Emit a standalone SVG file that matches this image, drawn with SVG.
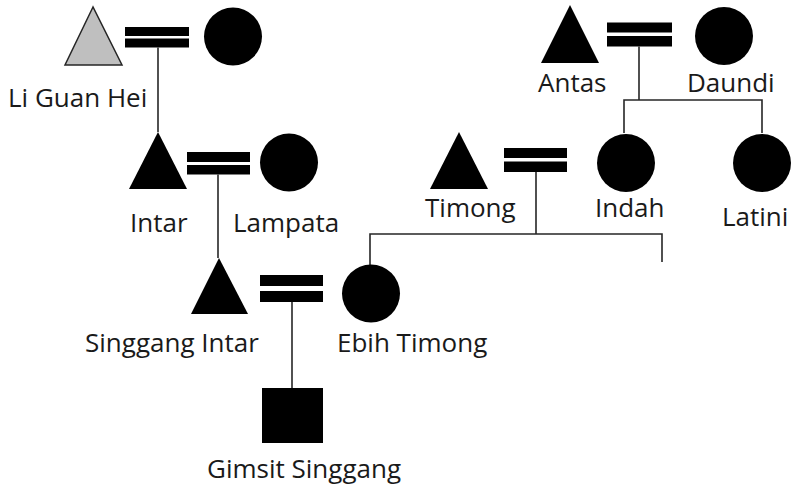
<svg xmlns="http://www.w3.org/2000/svg" width="791" height="490" viewBox="0 0 791 490">
  <style>
    .shape { fill: #000; }
    .deceased { fill: #bfbfbf; stroke: #262626; stroke-width: 1.5; stroke-linejoin: miter; }
    .bar { fill: #000; }
    .link { fill: none; stroke: #262626; stroke-width: 1.6; }
    .label { font-family: "Open Sans", "Liberation Sans", sans-serif; font-size: 26px; fill: #1a1a1a; }
  </style>
  <rect width="791" height="490" fill="#fff"/>

  <!-- marriage bars and descent lines -->
  <g id="connectors">
    <g id="marriage-liguanhei">
      <rect class="bar" x="125" y="27" width="64" height="9"/>
      <rect class="bar" x="125" y="38.5" width="64" height="9"/>
    </g>
    <g id="marriage-intar">
      <rect class="bar" x="187" y="152" width="63" height="10"/>
      <rect class="bar" x="187" y="165" width="63" height="9.5"/>
    </g>
    <g id="marriage-antas">
      <rect class="bar" x="607" y="22.5" width="65" height="10"/>
      <rect class="bar" x="607" y="36" width="65" height="10.5"/>
    </g>
    <g id="marriage-timong">
      <rect class="bar" x="504" y="148" width="63" height="10"/>
      <rect class="bar" x="504" y="161.5" width="63" height="10.5"/>
    </g>
    <g id="marriage-singgang">
      <rect class="bar" x="260" y="275" width="63" height="11"/>
      <rect class="bar" x="260" y="291" width="63" height="11"/>
    </g>
    <path class="link" d="M158 47.5 V132"/>
    <path class="link" d="M218 174.5 V258"/>
    <path class="link" d="M639 46.5 V100 M624 133 V100 H762 V133"/>
    <path class="link" d="M536 172 V234 M370 265 V234 H662 V262"/>
    <path class="link" d="M292 302 V388"/>
  </g>

  <g id="li-guan-hei">
    <polygon class="deceased" points="93,7 65,65 122,65"/>
    <text class="label" x="8" y="107">Li Guan Hei</text>
  </g>
  <g id="li-guan-hei-wife">
    <circle class="shape" cx="233" cy="36.5" r="29"/>
  </g>
  <g id="intar">
    <polygon class="shape" points="158,132 129,189 187,189"/>
    <text class="label" x="130" y="232">Intar</text>
  </g>
  <g id="lampata">
    <circle class="shape" cx="289" cy="162.5" r="29"/>
    <text class="label" x="233" y="232">Lampata</text>
  </g>
  <g id="antas">
    <polygon class="shape" points="570,5 541,63 599,63"/>
    <text class="label" x="538" y="92">Antas</text>
  </g>
  <g id="daundi">
    <circle class="shape" cx="724" cy="36" r="29"/>
    <text class="label" x="687" y="92">Daundi</text>
  </g>
  <g id="timong">
    <polygon class="shape" points="459,132 430,189 488,189"/>
    <text class="label" x="425" y="217">Timong</text>
  </g>
  <g id="indah">
    <circle class="shape" cx="626" cy="163" r="29"/>
    <text class="label" x="595" y="217">Indah</text>
  </g>
  <g id="latini">
    <circle class="shape" cx="762" cy="163" r="29"/>
    <text class="label" x="722" y="226">Latini</text>
  </g>
  <g id="singgang-intar">
    <polygon class="shape" points="219,258 191,314 248,314"/>
    <text class="label" x="85" y="352">Singgang Intar</text>
  </g>
  <g id="ebih-timong">
    <circle class="shape" cx="371" cy="293.5" r="29"/>
    <text class="label" x="337" y="352">Ebih Timong</text>
  </g>
  <g id="gimsit-singgang">
    <rect class="shape" x="262" y="388" width="61" height="55"/>
    <text class="label" x="207" y="478">Gimsit Singgang</text>
  </g>
</svg>
